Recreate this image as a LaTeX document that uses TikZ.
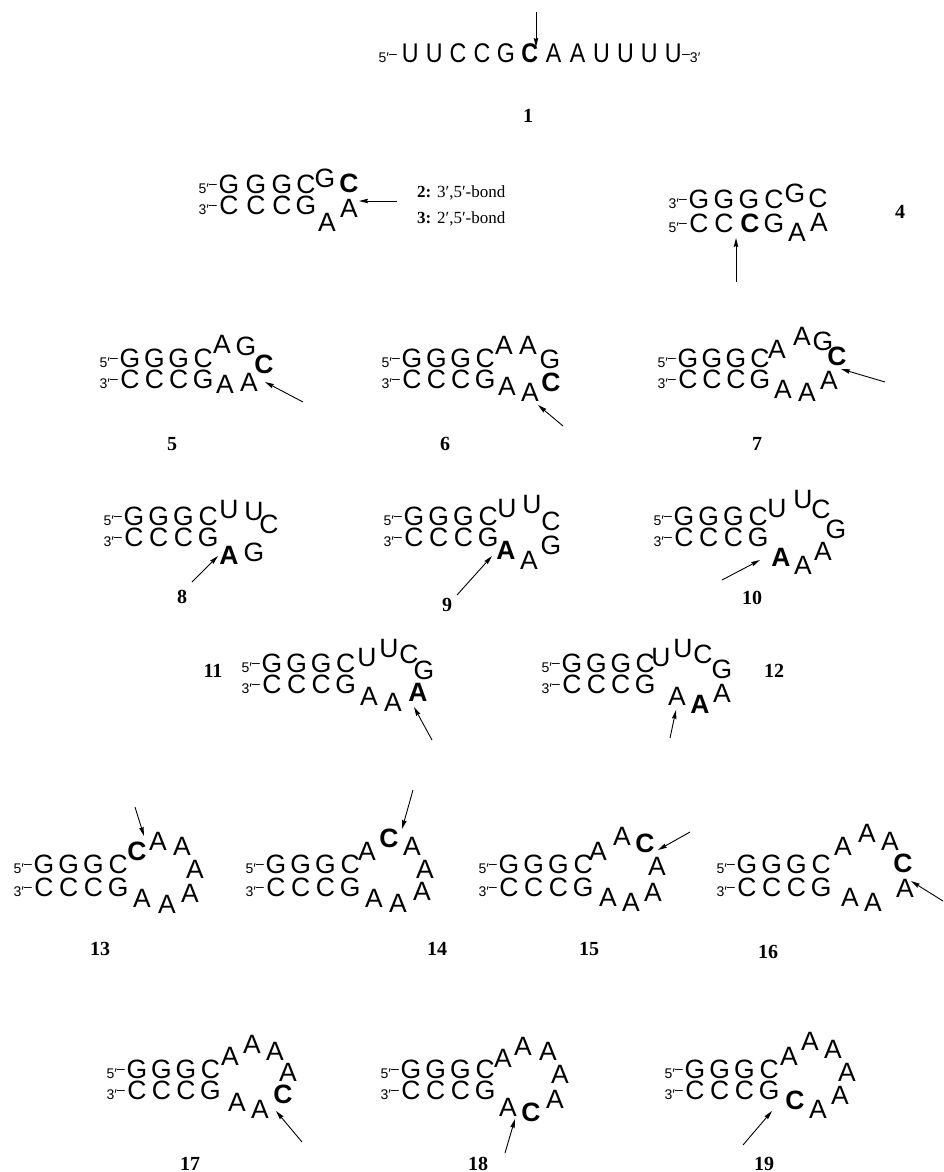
\documentclass[tikz,border=0pt]{standalone}
\usepackage{fontspec}
\setmainfont{Liberation Sans}
\newfontfamily\lab{Liberation Serif}
\usetikzlibrary{arrows.meta}
\newcommand\pf[1]{{\fontsize{14}{14}\selectfont #1′\raisebox{4.5pt}{–}}}
\newcommand\sfxx[1]{{\fontsize{14}{14}\selectfont\raisebox{4.5pt}{–}#1′}}
\newcommand\nr[1]{\scalebox{0.86}[1]{#1}}
\newcommand\Lt[4][]{\node[lt,#1] (#2) at (#3) {#4};}
\newcommand\Stem[7]{%
  \pgfmathsetmacro\sxa{#2}%
  \pgfmathsetmacro\sxb{#2+#3}%
  \pgfmathsetmacro\sxc{#2+2*#3}%
  \pgfmathsetmacro\sxd{#2+3*#3}%
  \pgfmathsetmacro\sxp{#2-12}%
  \node[pfx] (#1pt) at (\sxp,#4) {\pf{#6}};
  \node[lt] (#1t1) at (\sxa,#4) {G};
  \node[lt] (#1t2) at (\sxb,#4) {G};
  \node[lt] (#1t3) at (\sxc,#4) {G};
  \node[lt] (#1t4) at (\sxd,#4) {C};
  \node[pfx] (#1pb) at (\sxp,#5) {\pf{#7}};
  \node[lt] (#1b1) at (\sxa,#5) {C};
  \node[lt] (#1b2) at (\sxb,#5) {C};
  \node[lt] (#1b3) at (\sxc,#5) {C};
  \node[lt] (#1b4) at (\sxd,#5) {G};
}
\tikzset{
  lt/.style={inner sep=0pt, anchor=base, font=\fontsize{26.5}{26.5}\selectfont},
  bd/.style={font=\fontsize{26.5}{26.5}\selectfont\bfseries},
  n1/.style={font=\fontsize{27}{27}\selectfont},
  pfx/.style={inner sep=0pt, anchor=base east},
  num/.style={inner sep=0pt, anchor=base, font=\lab\fontsize{20}{20}\selectfont\bfseries},
  txt/.style={inner sep=0pt, anchor=base west, font=\lab\fontsize{17}{17}\selectfont},
  arr/.style={line width=0.9pt, -{Stealth[length=9pt,width=4.5pt,inset=1pt]}},
}
\begin{document}
\begin{tikzpicture}[x=1pt,y=-1pt]
\path[use as bounding box, fill=white] (0,0) rectangle (943,1172);

% ---------- 1 ----------
\node[pfx] (p1) at (397,63) {\pf{5}};
\Lt[n1]{a1}{410.3,63}{\nr{U}}
\Lt[n1]{a2}{434.2,63}{\nr{U}}
\Lt[n1]{a3}{458.1,63}{\nr{C}}
\Lt[n1]{a4}{482.0,63}{\nr{C}}
\Lt[n1]{a5}{505.9,63}{\nr{G}}
\Lt[n1]{a6}{529.8,63}{\nr{\bfseries C}}
\Lt[n1]{a7}{553.7,63}{\nr{A}}
\Lt[n1]{a8}{577.6,63}{\nr{A}}
\Lt[n1]{a9}{601.5,63}{\nr{U}}
\Lt[n1]{a10}{625.4,63}{\nr{U}}
\Lt[n1]{a11}{649.3,63}{\nr{U}}
\Lt[n1]{a12}{673.2,63}{\nr{U}}
\node[inner sep=0pt, anchor=base west] (q1) at (682,63) {\sfxx{3}};
\coordinate (r1s) at (536,12); \coordinate (r1e) at (536,47);
\draw[arr] (r1s) -- (r1e);
\node[num] (l1) at (528,122) {1};

% ---------- 2/3 ----------
\node[pfx] (p2t) at (217,193) {\pf{5}};
\node[pfx] (p2b) at (217,214) {\pf{3}};
\Lt{c2t1}{229,193}{G}\Lt{c2t2}{256,193}{G}\Lt{c2t3}{282,193}{G}\Lt{c2t4}{306,193}{C}
\Lt{c2b1}{229,214}{C}\Lt{c2b2}{256,214}{C}\Lt{c2b3}{282,214}{C}\Lt{c2b4}{306,214}{G}
\Lt{c2l1}{325,187}{G}
\Lt[bd]{c2l2}{349,192}{C}
\Lt{c2l3}{327,231}{A}
\Lt{c2l4}{349,217}{A}
\coordinate (r2s) at (397,201); \coordinate (r2e) at (359,201);
\draw[arr] (r2s) -- (r2e);
\node[txt] (t2) at (417,197) {\textbf{2:} 3′,5′-bond};
\node[txt] (t3) at (417,223) {\textbf{3:} 2′,5′-bond};

% ---------- 4 ----------
\node[pfx] (p4t) at (687,208) {\pf{3}};
\node[pfx] (p4b) at (687,232) {\pf{5}};
\Lt{c4t1}{699,208}{G}\Lt{c4t2}{724,208}{G}\Lt{c4t3}{749,208}{G}\Lt{c4t4}{774,208}{C}
\Lt{c4b1}{699,232}{C}\Lt{c4b2}{724,232}{C}\Lt[bd]{c4b3}{750,232}{C}\Lt{c4b4}{774,232}{G}
\Lt{c4l1}{795,202}{G}
\Lt{c4l2}{818,207}{C}
\Lt{c4l3}{797,241}{A}
\Lt{c4l4}{819,231}{A}
\coordinate (r4s) at (736,282); \coordinate (r4e) at (736,238);
\draw[arr] (r4s) -- (r4e);
\node[num] (l4) at (900,218) {4};

% ---------- 5 ----------
\Stem{s5}{130}{24.4}{367}{388}{5}{3}
\Lt{s5l1}{222,353}{A}\Lt{s5l2}{246,355}{G}\Lt[bd]{s5l3}{264,373}{C}
\Lt{s5l4}{225,393}{A}\Lt{s5l5}{249,391}{A}
\coordinate (r5s) at (303,402); \coordinate (r5e) at (265,382);
\draw[arr] (r5s) -- (r5e);
\node[num] (l5) at (172,450) {5};

% ---------- 6 ----------
\Stem{s6}{412}{24.4}{367}{388}{5}{3}
\Lt{s6l1}{504,354}{A}\Lt{s6l2}{528,354}{A}\Lt{s6l3}{550,368}{G}
\Lt{s6l4}{507,395}{A}\Lt{s6l5}{530,401}{A}\Lt[bd]{s6l6}{551,391}{C}
\coordinate (r6s) at (563,426); \coordinate (r6e) at (538,405);
\draw[arr] (r6s) -- (r6e);
\node[num] (l6) at (445,450) {6};

% ---------- 7 ----------
\Stem{s7}{688}{24}{367}{388}{5}{3}
\Lt{s7l1}{777,358}{A}\Lt{s7l2}{802,345}{A}\Lt{s7l3}{823,350}{G}\Lt[bd]{s7l4}{837,365}{C}
\Lt{s7l5}{783,398}{A}\Lt{s7l6}{807,401}{A}\Lt{s7l7}{829,389}{A}
\coordinate (r7s) at (885,382); \coordinate (r7e) at (841,369);
\draw[arr] (r7s) -- (r7e);
\node[num] (l7) at (757,450) {7};

% ---------- 8 ----------
\Stem{s8}{134}{24.7}{525}{546}{5}{3}
\Lt{s8l1}{229,518}{U}\Lt{s8l2}{254,520}{U}\Lt{s8l3}{269,533}{C}
\Lt[bd]{s8l4}{229,564}{A}\Lt{s8l5}{254,561}{G}
\coordinate (r8s) at (192,582); \coordinate (r8e) at (218,556);
\draw[arr] (r8s) -- (r8e);
\node[num] (l8) at (182,603) {8};

% ---------- 9 ----------
\Stem{s9}{414}{24.7}{525}{546}{5}{3}
\Lt{s9l1}{507,517}{U}\Lt{s9l2}{532,513}{U}\Lt{s9l3}{551,530}{C}
\Lt[bd]{s9l4}{506,559}{A}\Lt{s9l5}{529,569}{A}\Lt{s9l6}{551,554}{G}
\coordinate (r9s) at (457,595); \coordinate (r9e) at (492,556);
\draw[arr] (r9s) -- (r9e);
\node[num] (l9) at (447,611) {9};

% ---------- 10 ----------
\Stem{s10}{684}{24.7}{525}{546}{5}{3}
\Lt{s10l1}{777,517}{U}\Lt{s10l2}{803,508}{U}\Lt{s10l3}{821,518}{C}\Lt{s10l4}{836,538}{G}
\Lt[bd]{s10l5}{781,566}{A}\Lt{s10l6}{803,574}{A}\Lt{s10l7}{823,560}{A}
\coordinate (r10s) at (722,580); \coordinate (r10e) at (760,560);
\draw[arr] (r10s) -- (r10e);
\node[num] (l10) at (752,604) {10};

% ---------- 11 ----------
\Stem{s11}{272}{24.6}{672}{693}{5}{3}
\Lt{s11l1}{367,666}{U}\Lt{s11l2}{389,657}{U}\Lt{s11l3}{409,663}{C}\Lt{s11l4}{424,679}{G}
\Lt{s11l5}{369,705}{A}\Lt{s11l6}{393,711}{A}\Lt[bd]{s11l7}{418,701}{A}
\coordinate (r11s) at (432,740); \coordinate (r11e) at (414,707);
\draw[arr] (r11s) -- (r11e);
\node[num] (l11) at (213,677) {11};

% ---------- 12 ----------
\Stem{s12}{572}{24.4}{672}{693}{5}{3}
\Lt{s12l1}{661,666}{U}\Lt{s12l2}{683,657}{U}\Lt{s12l3}{703,663}{C}\Lt{s12l4}{722,678}{G}
\Lt{s12l5}{677,705}{A}\Lt[bd]{s12l6}{700,713}{A}\Lt{s12l7}{722,702}{A}
\coordinate (r12s) at (670,738); \coordinate (r12e) at (676,710);
\draw[arr] (r12s) -- (r12e);
\node[num] (l12) at (774,677) {12};

% ---------- 13 ----------
\Stem{s13}{44}{24.7}{873}{896}{5}{3}
\Lt[bd]{s13l1}{137,860}{C}\Lt{s13l2}{158,850}{A}\Lt{s13l3}{182,855}{A}\Lt{s13l4}{195,878}{A}
\Lt{s13l5}{142,907}{A}\Lt{s13l6}{167,913}{A}\Lt{s13l7}{190,902}{A}
\coordinate (r13s) at (135,807); \coordinate (r13e) at (144,836);
\draw[arr] (r13s) -- (r13e);
\node[num] (l13) at (100,955) {13};

% ---------- 14 ----------
\Stem{s14}{276}{24.7}{873}{896}{5}{3}
\Lt{s14l1}{367,860}{A}\Lt[bd]{s14l2}{389,847}{C}\Lt{s14l3}{412,855}{A}\Lt{s14l4}{425,878}{A}
\Lt{s14l5}{374,907}{A}\Lt{s14l6}{398,912}{A}\Lt{s14l7}{422,900}{A}
\coordinate (r14s) at (413,790); \coordinate (r14e) at (402,829);
\draw[arr] (r14s) -- (r14e);
\node[num] (l14) at (437,955) {14};

% ---------- 15 ----------
\Stem{s15}{509}{24.7}{873}{896}{5}{3}
\Lt{s15l1}{598,860}{A}\Lt{s15l2}{622,845}{A}\Lt[bd]{s15l3}{645,852}{C}\Lt{s15l4}{657,875}{A}
\Lt{s15l5}{608,906}{A}\Lt{s15l6}{631,911}{A}\Lt{s15l7}{653,901}{A}
\coordinate (r15s) at (690,832); \coordinate (r15e) at (658,850);
\draw[arr] (r15s) -- (r15e);
\node[num] (l15) at (589,955) {15};

% ---------- 16 ----------
\Stem{s16}{747}{24.7}{873}{896}{5}{3}
\Lt{s16l1}{843,855}{A}\Lt{s16l2}{867,842}{A}\Lt{s16l3}{890,850}{A}\Lt[bd]{s16l4}{903,872}{C}
\Lt{s16l5}{850,906}{A}\Lt{s16l6}{873,911}{A}\Lt{s16l7}{905,897}{A}
\coordinate (r16s) at (943,901); \coordinate (r16e) at (911,881);
\draw[arr] (r16s) -- (r16e);
\node[num] (l16) at (768,958) {16};

% ---------- 17 ----------
\Stem{s17}{137}{24.5}{1078}{1099}{5}{3}
\Lt{s17l1}{230,1065}{A}\Lt{s17l2}{252,1053}{A}\Lt{s17l3}{275,1060}{A}\Lt{s17l4}{288,1081}{A}
\Lt{s17l5}{237,1111}{A}\Lt{s17l6}{260,1118}{A}\Lt[bd]{s17l7}{283,1103}{C}
\coordinate (r17s) at (302,1142); \coordinate (r17e) at (276,1111);
\draw[arr] (r17s) -- (r17e);
\node[num] (l17) at (190,1170) {17};

% ---------- 18 ----------
\Stem{s18}{411}{24.7}{1078}{1099}{5}{3}
\Lt{s18l1}{503,1067}{A}\Lt{s18l2}{523,1055}{A}\Lt{s18l3}{548,1060}{A}\Lt{s18l4}{560,1083}{A}
\Lt{s18l5}{508,1116}{A}\Lt[bd]{s18l6}{531,1121}{C}\Lt{s18l7}{555,1108}{A}
\coordinate (r18s) at (505,1153); \coordinate (r18e) at (515,1119);
\draw[arr] (r18s) -- (r18e);
\node[num] (l18) at (478,1170) {18};

% ---------- 19 ----------
\Stem{s19}{695}{24.7}{1078}{1099}{5}{3}
\Lt{s19l1}{789,1065}{A}\Lt{s19l2}{810,1050}{A}\Lt{s19l3}{833,1058}{A}\Lt{s19l4}{847,1081}{A}
\Lt[bd]{s19l5}{795,1109}{C}\Lt{s19l6}{818,1118}{A}\Lt{s19l7}{840,1104}{A}
\coordinate (r19s) at (743,1145); \coordinate (r19e) at (772,1111);
\draw[arr] (r19s) -- (r19e);
\node[num] (l19) at (764,1170) {19};
\end{tikzpicture}
\end{document}
